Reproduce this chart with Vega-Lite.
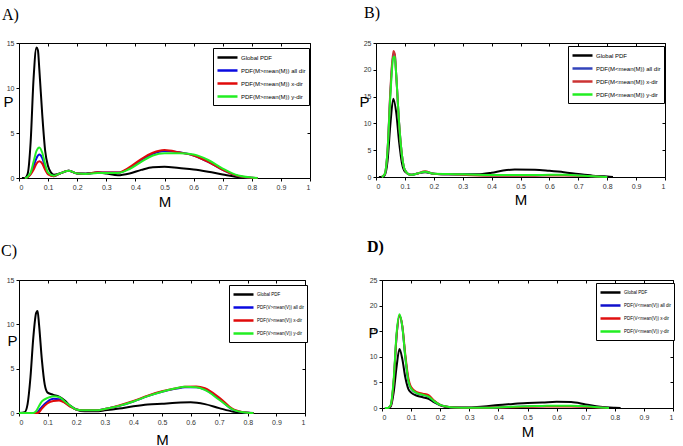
{
"$schema":"https://vega.github.io/schema/vega-lite/v6.json",
"background":"white",
"padding":{"left":0,"top":4,"right":0,"bottom":0},
"data":{"values":[
{"p":"A","s":"G","x":0.01,"y":0},{"p":"A","s":"G","x":0.02,"y":0},{"p":"A","s":"G","x":0.03,"y":0.5},{"p":"A","s":"G","x":0.04,"y":4},{"p":"A","s":"G","x":0.05,"y":11},{"p":"A","s":"G","x":0.06,"y":14.5},{"p":"A","s":"G","x":0.065,"y":14.2},{"p":"A","s":"G","x":0.07,"y":12},{"p":"A","s":"G","x":0.08,"y":7},{"p":"A","s":"G","x":0.09,"y":3},{"p":"A","s":"G","x":0.1,"y":1.3},{"p":"A","s":"G","x":0.11,"y":0.6},{"p":"A","s":"G","x":0.12,"y":0.35},{"p":"A","s":"G","x":0.14,"y":0.5},{"p":"A","s":"G","x":0.17,"y":0.8},{"p":"A","s":"G","x":0.2,"y":0.5},{"p":"A","s":"G","x":0.23,"y":0.5},{"p":"A","s":"G","x":0.27,"y":0.6},{"p":"A","s":"G","x":0.3,"y":0.5},{"p":"A","s":"G","x":0.34,"y":0.3},{"p":"A","s":"G","x":0.38,"y":0.5},{"p":"A","s":"G","x":0.42,"y":0.9},{"p":"A","s":"G","x":0.46,"y":1.2},{"p":"A","s":"G","x":0.5,"y":1.25},{"p":"A","s":"G","x":0.55,"y":1.1},{"p":"A","s":"G","x":0.6,"y":0.95},{"p":"A","s":"G","x":0.65,"y":0.7},{"p":"A","s":"G","x":0.7,"y":0.4},{"p":"A","s":"G","x":0.75,"y":0.12},{"p":"A","s":"G","x":0.8,"y":0},
{"p":"A","s":"a","x":0.02,"y":0},{"p":"A","s":"a","x":0.03,"y":0.1},{"p":"A","s":"a","x":0.04,"y":0.5},{"p":"A","s":"a","x":0.05,"y":1.3},{"p":"A","s":"a","x":0.06,"y":2.2},{"p":"A","s":"a","x":0.07,"y":2.6},{"p":"A","s":"a","x":0.08,"y":2.2},{"p":"A","s":"a","x":0.09,"y":1.2},{"p":"A","s":"a","x":0.1,"y":0.5},{"p":"A","s":"a","x":0.12,"y":0.2},{"p":"A","s":"a","x":0.14,"y":0.5},{"p":"A","s":"a","x":0.17,"y":0.8},{"p":"A","s":"a","x":0.2,"y":0.5},{"p":"A","s":"a","x":0.23,"y":0.45},{"p":"A","s":"a","x":0.27,"y":0.6},{"p":"A","s":"a","x":0.3,"y":0.6},{"p":"A","s":"a","x":0.34,"y":0.6},{"p":"A","s":"a","x":0.38,"y":1.1},{"p":"A","s":"a","x":0.42,"y":2.0},{"p":"A","s":"a","x":0.46,"y":2.7},{"p":"A","s":"a","x":0.5,"y":3.0},{"p":"A","s":"a","x":0.55,"y":2.85},{"p":"A","s":"a","x":0.6,"y":2.5},{"p":"A","s":"a","x":0.65,"y":1.8},{"p":"A","s":"a","x":0.7,"y":0.9},{"p":"A","s":"a","x":0.75,"y":0.25},{"p":"A","s":"a","x":0.8,"y":0.02},{"p":"A","s":"a","x":0.82,"y":0},
{"p":"A","s":"x","x":0.02,"y":0},{"p":"A","s":"x","x":0.03,"y":0.1},{"p":"A","s":"x","x":0.04,"y":0.4},{"p":"A","s":"x","x":0.05,"y":0.9},{"p":"A","s":"x","x":0.06,"y":1.6},{"p":"A","s":"x","x":0.07,"y":1.85},{"p":"A","s":"x","x":0.08,"y":1.6},{"p":"A","s":"x","x":0.09,"y":0.9},{"p":"A","s":"x","x":0.1,"y":0.4},{"p":"A","s":"x","x":0.12,"y":0.2},{"p":"A","s":"x","x":0.14,"y":0.5},{"p":"A","s":"x","x":0.17,"y":0.8},{"p":"A","s":"x","x":0.2,"y":0.5},{"p":"A","s":"x","x":0.23,"y":0.45},{"p":"A","s":"x","x":0.27,"y":0.65},{"p":"A","s":"x","x":0.3,"y":0.6},{"p":"A","s":"x","x":0.34,"y":0.6},{"p":"A","s":"x","x":0.38,"y":1.2},{"p":"A","s":"x","x":0.42,"y":2.1},{"p":"A","s":"x","x":0.46,"y":2.8},{"p":"A","s":"x","x":0.5,"y":3.1},{"p":"A","s":"x","x":0.55,"y":2.85},{"p":"A","s":"x","x":0.6,"y":2.5},{"p":"A","s":"x","x":0.65,"y":1.8},{"p":"A","s":"x","x":0.7,"y":0.9},{"p":"A","s":"x","x":0.75,"y":0.25},{"p":"A","s":"x","x":0.8,"y":0.02},{"p":"A","s":"x","x":0.82,"y":0},
{"p":"A","s":"y","x":0.02,"y":0},{"p":"A","s":"y","x":0.03,"y":0.15},{"p":"A","s":"y","x":0.04,"y":0.6},{"p":"A","s":"y","x":0.05,"y":1.8},{"p":"A","s":"y","x":0.06,"y":3.0},{"p":"A","s":"y","x":0.07,"y":3.4},{"p":"A","s":"y","x":0.08,"y":2.8},{"p":"A","s":"y","x":0.09,"y":1.5},{"p":"A","s":"y","x":0.1,"y":0.6},{"p":"A","s":"y","x":0.12,"y":0.25},{"p":"A","s":"y","x":0.14,"y":0.5},{"p":"A","s":"y","x":0.17,"y":0.8},{"p":"A","s":"y","x":0.2,"y":0.5},{"p":"A","s":"y","x":0.23,"y":0.45},{"p":"A","s":"y","x":0.27,"y":0.55},{"p":"A","s":"y","x":0.3,"y":0.55},{"p":"A","s":"y","x":0.34,"y":0.55},{"p":"A","s":"y","x":0.38,"y":1.0},{"p":"A","s":"y","x":0.42,"y":1.8},{"p":"A","s":"y","x":0.46,"y":2.5},{"p":"A","s":"y","x":0.5,"y":2.75},{"p":"A","s":"y","x":0.55,"y":2.75},{"p":"A","s":"y","x":0.6,"y":2.6},{"p":"A","s":"y","x":0.65,"y":2.0},{"p":"A","s":"y","x":0.7,"y":1.05},{"p":"A","s":"y","x":0.75,"y":0.3},{"p":"A","s":"y","x":0.8,"y":0.05},{"p":"A","s":"y","x":0.82,"y":0},

{"p":"B","s":"G","x":0.01,"y":0},{"p":"B","s":"G","x":0.02,"y":0},{"p":"B","s":"G","x":0.03,"y":0.3},{"p":"B","s":"G","x":0.04,"y":3},{"p":"B","s":"G","x":0.05,"y":10},{"p":"B","s":"G","x":0.06,"y":14.6},{"p":"B","s":"G","x":0.07,"y":12},{"p":"B","s":"G","x":0.08,"y":6.5},{"p":"B","s":"G","x":0.09,"y":2.5},{"p":"B","s":"G","x":0.1,"y":1.0},{"p":"B","s":"G","x":0.12,"y":0.4},{"p":"B","s":"G","x":0.14,"y":0.6},{"p":"B","s":"G","x":0.17,"y":0.9},{"p":"B","s":"G","x":0.2,"y":0.6},{"p":"B","s":"G","x":0.25,"y":0.5},{"p":"B","s":"G","x":0.3,"y":0.5},{"p":"B","s":"G","x":0.35,"y":0.5},{"p":"B","s":"G","x":0.4,"y":0.8},{"p":"B","s":"G","x":0.44,"y":1.2},{"p":"B","s":"G","x":0.48,"y":1.4},{"p":"B","s":"G","x":0.55,"y":1.35},{"p":"B","s":"G","x":0.6,"y":1.15},{"p":"B","s":"G","x":0.65,"y":0.9},{"p":"B","s":"G","x":0.7,"y":0.55},{"p":"B","s":"G","x":0.75,"y":0.25},{"p":"B","s":"G","x":0.8,"y":0.1},{"p":"B","s":"G","x":0.82,"y":0},
{"p":"B","s":"a","x":0.02,"y":0},{"p":"B","s":"a","x":0.03,"y":0.5},{"p":"B","s":"a","x":0.04,"y":5},{"p":"B","s":"a","x":0.05,"y":16},{"p":"B","s":"a","x":0.06,"y":23},{"p":"B","s":"a","x":0.065,"y":22.8},{"p":"B","s":"a","x":0.07,"y":19},{"p":"B","s":"a","x":0.08,"y":10},{"p":"B","s":"a","x":0.09,"y":4},{"p":"B","s":"a","x":0.1,"y":1.3},{"p":"B","s":"a","x":0.12,"y":0.4},{"p":"B","s":"a","x":0.14,"y":0.6},{"p":"B","s":"a","x":0.17,"y":1.0},{"p":"B","s":"a","x":0.2,"y":0.6},{"p":"B","s":"a","x":0.25,"y":0.5},{"p":"B","s":"a","x":0.3,"y":0.45},{"p":"B","s":"a","x":0.35,"y":0.35},{"p":"B","s":"a","x":0.4,"y":0.3},{"p":"B","s":"a","x":0.45,"y":0.3},{"p":"B","s":"a","x":0.5,"y":0.3},{"p":"B","s":"a","x":0.55,"y":0.3},{"p":"B","s":"a","x":0.6,"y":0.35},{"p":"B","s":"a","x":0.65,"y":0.35},{"p":"B","s":"a","x":0.7,"y":0.3},{"p":"B","s":"a","x":0.75,"y":0.15},{"p":"B","s":"a","x":0.78,"y":0.05},{"p":"B","s":"a","x":0.8,"y":0},
{"p":"B","s":"x","x":0.02,"y":0},{"p":"B","s":"x","x":0.03,"y":0.5},{"p":"B","s":"x","x":0.04,"y":5},{"p":"B","s":"x","x":0.05,"y":16.5},{"p":"B","s":"x","x":0.06,"y":23.5},{"p":"B","s":"x","x":0.065,"y":23},{"p":"B","s":"x","x":0.07,"y":19},{"p":"B","s":"x","x":0.08,"y":10},{"p":"B","s":"x","x":0.09,"y":4},{"p":"B","s":"x","x":0.1,"y":1.3},{"p":"B","s":"x","x":0.12,"y":0.4},{"p":"B","s":"x","x":0.14,"y":0.6},{"p":"B","s":"x","x":0.17,"y":1.05},{"p":"B","s":"x","x":0.2,"y":0.6},{"p":"B","s":"x","x":0.25,"y":0.5},{"p":"B","s":"x","x":0.3,"y":0.4},{"p":"B","s":"x","x":0.35,"y":0.3},{"p":"B","s":"x","x":0.4,"y":0.25},{"p":"B","s":"x","x":0.45,"y":0.25},{"p":"B","s":"x","x":0.5,"y":0.25},{"p":"B","s":"x","x":0.55,"y":0.25},{"p":"B","s":"x","x":0.6,"y":0.3},{"p":"B","s":"x","x":0.65,"y":0.3},{"p":"B","s":"x","x":0.7,"y":0.25},{"p":"B","s":"x","x":0.75,"y":0.12},{"p":"B","s":"x","x":0.78,"y":0.04},{"p":"B","s":"x","x":0.8,"y":0},
{"p":"B","s":"y","x":0.02,"y":0},{"p":"B","s":"y","x":0.03,"y":0.5},{"p":"B","s":"y","x":0.04,"y":5},{"p":"B","s":"y","x":0.05,"y":15.5},{"p":"B","s":"y","x":0.06,"y":22.3},{"p":"B","s":"y","x":0.065,"y":22.5},{"p":"B","s":"y","x":0.07,"y":19},{"p":"B","s":"y","x":0.08,"y":10},{"p":"B","s":"y","x":0.09,"y":4},{"p":"B","s":"y","x":0.1,"y":1.3},{"p":"B","s":"y","x":0.12,"y":0.4},{"p":"B","s":"y","x":0.14,"y":0.6},{"p":"B","s":"y","x":0.17,"y":1.0},{"p":"B","s":"y","x":0.2,"y":0.6},{"p":"B","s":"y","x":0.25,"y":0.55},{"p":"B","s":"y","x":0.3,"y":0.5},{"p":"B","s":"y","x":0.35,"y":0.4},{"p":"B","s":"y","x":0.4,"y":0.35},{"p":"B","s":"y","x":0.45,"y":0.35},{"p":"B","s":"y","x":0.5,"y":0.35},{"p":"B","s":"y","x":0.55,"y":0.35},{"p":"B","s":"y","x":0.6,"y":0.4},{"p":"B","s":"y","x":0.65,"y":0.4},{"p":"B","s":"y","x":0.7,"y":0.3},{"p":"B","s":"y","x":0.75,"y":0.15},{"p":"B","s":"y","x":0.78,"y":0.05},{"p":"B","s":"y","x":0.8,"y":0},

{"p":"C","s":"G","x":0,"y":0},{"p":"C","s":"G","x":0.02,"y":0.1},{"p":"C","s":"G","x":0.03,"y":1},{"p":"C","s":"G","x":0.04,"y":4},{"p":"C","s":"G","x":0.05,"y":8.5},{"p":"C","s":"G","x":0.06,"y":11.3},{"p":"C","s":"G","x":0.065,"y":11.5},{"p":"C","s":"G","x":0.07,"y":10},{"p":"C","s":"G","x":0.08,"y":6},{"p":"C","s":"G","x":0.09,"y":3.2},{"p":"C","s":"G","x":0.1,"y":2.3},{"p":"C","s":"G","x":0.12,"y":2.05},{"p":"C","s":"G","x":0.14,"y":1.85},{"p":"C","s":"G","x":0.16,"y":1.4},{"p":"C","s":"G","x":0.18,"y":0.8},{"p":"C","s":"G","x":0.2,"y":0.4},{"p":"C","s":"G","x":0.23,"y":0.2},{"p":"C","s":"G","x":0.27,"y":0.2},{"p":"C","s":"G","x":0.3,"y":0.3},{"p":"C","s":"G","x":0.35,"y":0.5},{"p":"C","s":"G","x":0.4,"y":0.75},{"p":"C","s":"G","x":0.45,"y":0.95},{"p":"C","s":"G","x":0.5,"y":1.05},{"p":"C","s":"G","x":0.55,"y":1.15},{"p":"C","s":"G","x":0.6,"y":1.2},{"p":"C","s":"G","x":0.65,"y":1.0},{"p":"C","s":"G","x":0.7,"y":0.55},{"p":"C","s":"G","x":0.75,"y":0.15},{"p":"C","s":"G","x":0.8,"y":0.02},{"p":"C","s":"G","x":0.82,"y":0},
{"p":"C","s":"a","x":0,"y":0},{"p":"C","s":"a","x":0.06,"y":0},{"p":"C","s":"a","x":0.07,"y":0.3},{"p":"C","s":"a","x":0.08,"y":0.7},{"p":"C","s":"a","x":0.1,"y":1.3},{"p":"C","s":"a","x":0.12,"y":1.6},{"p":"C","s":"a","x":0.14,"y":1.55},{"p":"C","s":"a","x":0.16,"y":1.2},{"p":"C","s":"a","x":0.18,"y":0.75},{"p":"C","s":"a","x":0.2,"y":0.4},{"p":"C","s":"a","x":0.23,"y":0.3},{"p":"C","s":"a","x":0.27,"y":0.3},{"p":"C","s":"a","x":0.3,"y":0.45},{"p":"C","s":"a","x":0.35,"y":0.8},{"p":"C","s":"a","x":0.4,"y":1.3},{"p":"C","s":"a","x":0.45,"y":1.9},{"p":"C","s":"a","x":0.5,"y":2.4},{"p":"C","s":"a","x":0.55,"y":2.75},{"p":"C","s":"a","x":0.58,"y":2.9},{"p":"C","s":"a","x":0.62,"y":2.9},{"p":"C","s":"a","x":0.65,"y":2.65},{"p":"C","s":"a","x":0.7,"y":1.6},{"p":"C","s":"a","x":0.75,"y":0.35},{"p":"C","s":"a","x":0.8,"y":0.03},{"p":"C","s":"a","x":0.82,"y":0},
{"p":"C","s":"x","x":0,"y":0},{"p":"C","s":"x","x":0.065,"y":0},{"p":"C","s":"x","x":0.07,"y":0.1},{"p":"C","s":"x","x":0.08,"y":0.5},{"p":"C","s":"x","x":0.1,"y":1.1},{"p":"C","s":"x","x":0.12,"y":1.35},{"p":"C","s":"x","x":0.14,"y":1.4},{"p":"C","s":"x","x":0.16,"y":1.15},{"p":"C","s":"x","x":0.18,"y":0.7},{"p":"C","s":"x","x":0.2,"y":0.4},{"p":"C","s":"x","x":0.23,"y":0.3},{"p":"C","s":"x","x":0.27,"y":0.3},{"p":"C","s":"x","x":0.3,"y":0.45},{"p":"C","s":"x","x":0.35,"y":0.85},{"p":"C","s":"x","x":0.4,"y":1.35},{"p":"C","s":"x","x":0.45,"y":1.95},{"p":"C","s":"x","x":0.5,"y":2.45},{"p":"C","s":"x","x":0.55,"y":2.8},{"p":"C","s":"x","x":0.58,"y":2.95},{"p":"C","s":"x","x":0.62,"y":3.0},{"p":"C","s":"x","x":0.65,"y":2.8},{"p":"C","s":"x","x":0.7,"y":1.75},{"p":"C","s":"x","x":0.75,"y":0.4},{"p":"C","s":"x","x":0.8,"y":0.03},{"p":"C","s":"x","x":0.82,"y":0},
{"p":"C","s":"y","x":0,"y":0},{"p":"C","s":"y","x":0.05,"y":0},{"p":"C","s":"y","x":0.06,"y":0.2},{"p":"C","s":"y","x":0.07,"y":0.8},{"p":"C","s":"y","x":0.08,"y":1.3},{"p":"C","s":"y","x":0.1,"y":1.7},{"p":"C","s":"y","x":0.12,"y":1.9},{"p":"C","s":"y","x":0.14,"y":1.8},{"p":"C","s":"y","x":0.16,"y":1.3},{"p":"C","s":"y","x":0.18,"y":0.8},{"p":"C","s":"y","x":0.2,"y":0.4},{"p":"C","s":"y","x":0.23,"y":0.3},{"p":"C","s":"y","x":0.27,"y":0.3},{"p":"C","s":"y","x":0.3,"y":0.45},{"p":"C","s":"y","x":0.35,"y":0.8},{"p":"C","s":"y","x":0.4,"y":1.3},{"p":"C","s":"y","x":0.45,"y":1.9},{"p":"C","s":"y","x":0.5,"y":2.4},{"p":"C","s":"y","x":0.55,"y":2.8},{"p":"C","s":"y","x":0.58,"y":2.95},{"p":"C","s":"y","x":0.62,"y":2.9},{"p":"C","s":"y","x":0.65,"y":2.6},{"p":"C","s":"y","x":0.7,"y":1.5},{"p":"C","s":"y","x":0.75,"y":0.35},{"p":"C","s":"y","x":0.8,"y":0.03},{"p":"C","s":"y","x":0.82,"y":0},

{"p":"D","s":"G","x":0.01,"y":0},{"p":"D","s":"G","x":0.02,"y":0},{"p":"D","s":"G","x":0.03,"y":0.3},{"p":"D","s":"G","x":0.04,"y":3},{"p":"D","s":"G","x":0.05,"y":8},{"p":"D","s":"G","x":0.06,"y":11.5},{"p":"D","s":"G","x":0.07,"y":9.5},{"p":"D","s":"G","x":0.08,"y":6},{"p":"D","s":"G","x":0.09,"y":3.8},{"p":"D","s":"G","x":0.1,"y":3.0},{"p":"D","s":"G","x":0.12,"y":2.4},{"p":"D","s":"G","x":0.14,"y":2.1},{"p":"D","s":"G","x":0.16,"y":1.8},{"p":"D","s":"G","x":0.18,"y":1.1},{"p":"D","s":"G","x":0.2,"y":0.5},{"p":"D","s":"G","x":0.22,"y":0.2},{"p":"D","s":"G","x":0.25,"y":0.1},{"p":"D","s":"G","x":0.3,"y":0.1},{"p":"D","s":"G","x":0.35,"y":0.3},{"p":"D","s":"G","x":0.4,"y":0.6},{"p":"D","s":"G","x":0.45,"y":0.8},{"p":"D","s":"G","x":0.5,"y":1.0},{"p":"D","s":"G","x":0.55,"y":1.05},{"p":"D","s":"G","x":0.6,"y":1.2},{"p":"D","s":"G","x":0.65,"y":1.15},{"p":"D","s":"G","x":0.7,"y":0.7},{"p":"D","s":"G","x":0.75,"y":0.25},{"p":"D","s":"G","x":0.8,"y":0.05},{"p":"D","s":"G","x":0.82,"y":0},
{"p":"D","s":"a","x":0.01,"y":0},{"p":"D","s":"a","x":0.02,"y":0},{"p":"D","s":"a","x":0.03,"y":0.5},{"p":"D","s":"a","x":0.04,"y":5},{"p":"D","s":"a","x":0.05,"y":14},{"p":"D","s":"a","x":0.06,"y":18},{"p":"D","s":"a","x":0.07,"y":15.8},{"p":"D","s":"a","x":0.08,"y":10},{"p":"D","s":"a","x":0.09,"y":5.5},{"p":"D","s":"a","x":0.1,"y":3.8},{"p":"D","s":"a","x":0.12,"y":2.9},{"p":"D","s":"a","x":0.14,"y":2.6},{"p":"D","s":"a","x":0.16,"y":2.2},{"p":"D","s":"a","x":0.18,"y":1.3},{"p":"D","s":"a","x":0.2,"y":0.6},{"p":"D","s":"a","x":0.22,"y":0.3},{"p":"D","s":"a","x":0.25,"y":0.1},{"p":"D","s":"a","x":0.3,"y":0.05},{"p":"D","s":"a","x":0.35,"y":0.05},{"p":"D","s":"a","x":0.4,"y":0.1},{"p":"D","s":"a","x":0.45,"y":0.2},{"p":"D","s":"a","x":0.5,"y":0.3},{"p":"D","s":"a","x":0.55,"y":0.35},{"p":"D","s":"a","x":0.6,"y":0.4},{"p":"D","s":"a","x":0.65,"y":0.4},{"p":"D","s":"a","x":0.7,"y":0.3},{"p":"D","s":"a","x":0.75,"y":0.1},{"p":"D","s":"a","x":0.78,"y":0},
{"p":"D","s":"x","x":0.01,"y":0},{"p":"D","s":"x","x":0.02,"y":0},{"p":"D","s":"x","x":0.03,"y":0.5},{"p":"D","s":"x","x":0.04,"y":5},{"p":"D","s":"x","x":0.05,"y":14},{"p":"D","s":"x","x":0.06,"y":18},{"p":"D","s":"x","x":0.07,"y":16},{"p":"D","s":"x","x":0.08,"y":10.5},{"p":"D","s":"x","x":0.09,"y":6},{"p":"D","s":"x","x":0.1,"y":4.1},{"p":"D","s":"x","x":0.12,"y":3.1},{"p":"D","s":"x","x":0.14,"y":2.8},{"p":"D","s":"x","x":0.16,"y":2.5},{"p":"D","s":"x","x":0.18,"y":1.4},{"p":"D","s":"x","x":0.2,"y":0.6},{"p":"D","s":"x","x":0.22,"y":0.3},{"p":"D","s":"x","x":0.25,"y":0.1},{"p":"D","s":"x","x":0.3,"y":0.05},{"p":"D","s":"x","x":0.35,"y":0.05},{"p":"D","s":"x","x":0.4,"y":0.1},{"p":"D","s":"x","x":0.45,"y":0.15},{"p":"D","s":"x","x":0.5,"y":0.25},{"p":"D","s":"x","x":0.55,"y":0.3},{"p":"D","s":"x","x":0.6,"y":0.3},{"p":"D","s":"x","x":0.65,"y":0.3},{"p":"D","s":"x","x":0.7,"y":0.25},{"p":"D","s":"x","x":0.75,"y":0.08},{"p":"D","s":"x","x":0.78,"y":0},
{"p":"D","s":"y","x":0.01,"y":0},{"p":"D","s":"y","x":0.02,"y":0},{"p":"D","s":"y","x":0.03,"y":0.6},{"p":"D","s":"y","x":0.04,"y":5.5},{"p":"D","s":"y","x":0.05,"y":14.5},{"p":"D","s":"y","x":0.06,"y":18.3},{"p":"D","s":"y","x":0.07,"y":15.8},{"p":"D","s":"y","x":0.08,"y":10},{"p":"D","s":"y","x":0.09,"y":5.5},{"p":"D","s":"y","x":0.1,"y":3.8},{"p":"D","s":"y","x":0.12,"y":2.9},{"p":"D","s":"y","x":0.14,"y":2.6},{"p":"D","s":"y","x":0.16,"y":2.2},{"p":"D","s":"y","x":0.18,"y":1.3},{"p":"D","s":"y","x":0.2,"y":0.6},{"p":"D","s":"y","x":0.22,"y":0.3},{"p":"D","s":"y","x":0.25,"y":0.1},{"p":"D","s":"y","x":0.3,"y":0.05},{"p":"D","s":"y","x":0.35,"y":0.05},{"p":"D","s":"y","x":0.4,"y":0.12},{"p":"D","s":"y","x":0.45,"y":0.25},{"p":"D","s":"y","x":0.5,"y":0.35},{"p":"D","s":"y","x":0.55,"y":0.4},{"p":"D","s":"y","x":0.6,"y":0.45},{"p":"D","s":"y","x":0.65,"y":0.45},{"p":"D","s":"y","x":0.7,"y":0.35},{"p":"D","s":"y","x":0.75,"y":0.12},{"p":"D","s":"y","x":0.78,"y":0}
]},
"spacing":28,
"resolve":{"scale":{"color":"independent","x":"independent","y":"independent"},"legend":{"color":"independent"}},
"vconcat":[
{"spacing":47,
 "resolve":{"scale":{"color":"independent","x":"independent","y":"independent"},"legend":{"color":"independent"}},
 "hconcat":[
 {"width":291,"height":135,
  "title":{"text":"A)","anchor":"start","frame":"group","dx":-17,"offset":16},
  "transform":[{"filter":"datum.p==='A'"}],
  "layer":[
   {"mark":{"type":"line","interpolate":"monotone","strokeWidth":2},
    "encoding":{
     "x":{"field":"x","type":"quantitative","scale":{"domain":[0,1]},"axis":{"title":"M","values":[0,0.1,0.2,0.3,0.4,0.5,0.6,0.7,0.8,0.9,1],"format":"~g","titleY":28}},
     "y":{"field":"y","type":"quantitative","scale":{"domain":[0,15]},"axis":{"title":"P","values":[0,5,10,15],"titleX":-16,"titleY":63}},
     "color":{"field":"s","type":"nominal","scale":{"domain":["G","a","x","y"],"range":["#000000","#0a0ae0","#e00a0a","#22ee22"]},
      "legend":{"orient":"none","legendX":194,"legendY":5,"labelFontSize":6,"labelExpr":"{'G':'Global PDF','a':'PDF(M>mean(M)) all dir','x':'PDF(M>mean(M)) x-dir','y':'PDF(M>mean(M)) y-dir'}[datum.value]"}}}},
   {"mark":{"type":"line","opacity":0},
    "encoding":{
     "x":{"field":"x","type":"quantitative","scale":{"domain":[0,1]},"axis":{"orient":"top","labels":false,"title":null,"tickSize":-3,"values":[0,0.1,0.2,0.3,0.4,0.5,0.6,0.7,0.8,0.9,1]}},
     "y":{"field":"y","type":"quantitative","scale":{"domain":[0,15]},"axis":{"orient":"right","labels":false,"title":null,"tickSize":-3,"values":[0,5,10,15]}}}}
  ],
  "resolve":{"axis":{"x":"independent","y":"independent"}}},
 {"width":289,"height":134,
  "title":{"text":"B)","anchor":"start","frame":"group","dx":-12,"offset":18},
  "transform":[{"filter":"datum.p==='B'"}],
  "layer":[
   {"mark":{"type":"line","interpolate":"monotone","strokeWidth":2},
    "encoding":{
     "x":{"field":"x","type":"quantitative","scale":{"domain":[0,1]},"axis":{"title":"M","values":[0,0.1,0.2,0.3,0.4,0.5,0.6,0.7,0.8,0.9,1],"format":"~g","titleY":27}},
     "y":{"field":"y","type":"quantitative","scale":{"domain":[0,25]},"axis":{"title":"P","values":[0,5,10,15,20,25],"titleX":-17,"titleY":63}},
     "color":{"field":"s","type":"nominal","scale":{"domain":["G","a","x","y"],"range":["#000000","#3344bb","#cc3333","#22ee22"]},
      "legend":{"orient":"none","legendX":192,"legendY":3,"labelFontSize":6,"labelExpr":"{'G':'Global PDF','a':'PDF(M<mean(M)) all dir','x':'PDF(M<mean(M)) x-dir','y':'PDF(M<mean(M)) y-dir'}[datum.value]"}}}},
   {"mark":{"type":"line","opacity":0},
    "encoding":{
     "x":{"field":"x","type":"quantitative","scale":{"domain":[0,1]},"axis":{"orient":"top","labels":false,"title":null,"tickSize":-3,"values":[0,0.1,0.2,0.3,0.4,0.5,0.6,0.7,0.8,0.9,1]}},
     "y":{"field":"y","type":"quantitative","scale":{"domain":[0,25]},"axis":{"orient":"right","labels":false,"title":null,"tickSize":-3,"values":[0,5,10,15,20,25]}}}}
  ],
  "resolve":{"axis":{"x":"independent","y":"independent"}}}
 ]},
{"spacing":58,
 "resolve":{"scale":{"color":"independent","x":"independent","y":"independent"},"legend":{"color":"independent"}},
 "hconcat":[
 {"width":286,"height":133,
  "title":{"text":"C)","anchor":"start","frame":"group","dx":-18,"offset":17},
  "transform":[{"filter":"datum.p==='C'"}],
  "layer":[
   {"mark":{"type":"line","interpolate":"monotone","strokeWidth":2},
    "encoding":{
     "x":{"field":"x","type":"quantitative","scale":{"domain":[0,1]},"axis":{"title":"M","values":[0,0.1,0.2,0.3,0.4,0.5,0.6,0.7,0.8,0.9,1],"format":"~g","titleY":31}},
     "y":{"field":"y","type":"quantitative","scale":{"domain":[0,15]},"axis":{"title":"P","values":[0,5,10,15],"titleX":-12,"titleY":65}},
     "color":{"field":"s","type":"nominal","scale":{"domain":["G","a","x","y"],"range":["#000000","#0a0ae0","#e00a0a","#22ee22"]},
      "legend":{"orient":"none","legendX":210,"legendY":5,"labelFontSize":4.5,"labelExpr":"{'G':'Global PDF','a':'PDF(V>mean(V)) all dir','x':'PDF(V>mean(V)) x-dir','y':'PDF(V>mean(V)) y-dir'}[datum.value]"}}}},
   {"mark":{"type":"line","opacity":0},
    "encoding":{
     "x":{"field":"x","type":"quantitative","scale":{"domain":[0,1]},"axis":{"orient":"top","labels":false,"title":null,"tickSize":-3,"values":[0,0.1,0.2,0.3,0.4,0.5,0.6,0.7,0.8,0.9,1]}},
     "y":{"field":"y","type":"quantitative","scale":{"domain":[0,15]},"axis":{"orient":"right","labels":false,"title":null,"tickSize":-3,"values":[0,5,10,15]}}}}
  ],
  "resolve":{"axis":{"x":"independent","y":"independent"}}},
 {"width":291,"height":128,
  "title":{"text":"D)","anchor":"start","frame":"group","dx":-15,"offset":21,"fontWeight":"bold"},
  "transform":[{"filter":"datum.p==='D'"}],
  "layer":[
   {"mark":{"type":"line","interpolate":"monotone","strokeWidth":2},
    "encoding":{
     "x":{"field":"x","type":"quantitative","scale":{"domain":[0,1]},"axis":{"title":"M","values":[0,0.1,0.2,0.3,0.4,0.5,0.6,0.7,0.8,0.9,1],"format":"~g","titleY":28}},
     "y":{"field":"y","type":"quantitative","scale":{"domain":[0,25]},"axis":{"title":"P","values":[0,5,10,15,20,25],"titleX":-14,"titleY":57}},
     "color":{"field":"s","type":"nominal","scale":{"domain":["G","a","x","y"],"range":["#000000","#1010cc","#e01010","#22ee22"]},
      "legend":{"orient":"none","legendX":214,"legendY":3,"labelFontSize":4.5,"labelExpr":"{'G':'Global PDF','a':'PDF(V<mean(V)) all dir','x':'PDF(V<mean(V)) x-dir','y':'PDF(V<mean(V)) y-dir'}[datum.value]"}}}},
   {"mark":{"type":"line","opacity":0},
    "encoding":{
     "x":{"field":"x","type":"quantitative","scale":{"domain":[0,1]},"axis":{"orient":"top","labels":false,"title":null,"tickSize":-3,"values":[0,0.1,0.2,0.3,0.4,0.5,0.6,0.7,0.8,0.9,1]}},
     "y":{"field":"y","type":"quantitative","scale":{"domain":[0,25]},"axis":{"orient":"right","labels":false,"title":null,"tickSize":-3,"values":[0,5,10,15,20,25]}}}}
  ],
  "resolve":{"axis":{"x":"independent","y":"independent"}}}
 ]}
],
"config":{
 "view":{"stroke":"#000000","strokeWidth":1},
 "title":{"font":"Liberation Serif","fontSize":16,"fontWeight":"normal","color":"#000000"},
 "axis":{"domain":false,"grid":false,"tickColor":"#000000","tickSize":3,"labelFont":"Liberation Sans","labelFontSize":7,"labelColor":"#333333","labelPadding":2,"titleFont":"Liberation Sans","titleFontSize":15,"titleFontWeight":"normal","titleColor":"#000000"},
 "axisY":{"titleAngle":0,"titleAlign":"left","titleBaseline":"alphabetic"},
 "axisX":{"titleBaseline":"alphabetic"},
 "legend":{"title":null,"symbolType":"M-1,0H3","symbolSize":100,"symbolStrokeWidth":2.5,"labelFont":"Liberation Sans","labelColor":"#000000","strokeColor":"#000000","fillColor":"#ffffff","padding":3,"rowPadding":1,"labelOffset":12,"cornerRadius":0}
}
}
